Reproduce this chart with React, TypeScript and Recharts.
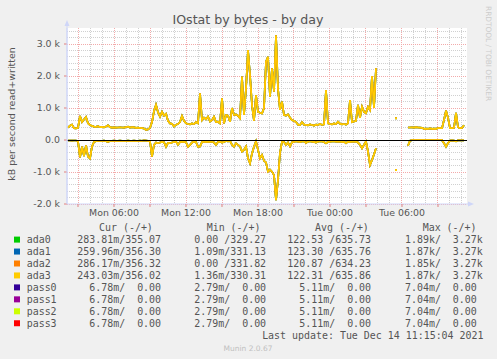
import { LineChart, Line, XAxis, YAxis, CartesianGrid, ReferenceLine } from 'recharts';

// 10 minute samples, hours counted from Mon 00:00
const START_HOUR = 2 + 1 / 6;
const STEP_HOURS = 1 / 6;
const X_MIN = 2.083;
const X_MAX = 35.417;

// kB/s written (drawn above zero)
const written = [
  390, 450, 480, 370, 365, 380, 750, 560, 640, 720,
  520, 470, 440, 420, 410, 430, 400, 410, 395, 420,
  460, 400, 390, 395, 385, 390, 395, 390, 385, 400,
  420, 390, 400, 395, 380, 385, 375, 370, 360, 320,
  330, 380, 560, 900, 1100, 870, 730, 880, 760, 820,
  600, 520, 510, 420, 480, 500, 560, 750, 600, 520,
  500, 490, 520, 500, 560, 520, 1460, 620, 700, 650,
  730, 580, 620, 730, 560, 570, 520, 1300, 520, 780,
  760, 570, 1000, 780, 800, 760, 680, 1980, 780, 1600,
  2810, 2030, 1090, 600, 1400, 880, 850, 830, 1000, 2450,
  2600, 1350, 2240, 1510, 3270, 1600, 940, 1200, 780, 760,
  800, 700, 620, 600, 560, 480, 470, 560, 480, 470,
  460, 490, 470, 450, 480, 470, 500, 470, 490, 1560,
  520, 500, 490, 520, 500, 570, 510, 490, 500, 480,
  520, 1250, 560, 580, 600, 1100, 690, 1040, 880, 840,
  1040, 940, 2000, 1000, 2240, null, null, null, null, null,
  null, null, null, null, 680, null, null, null, null, null,
  390, 390, 395, 390, 400, 390, 385, 380, 350, 355,
  350, 360, 350, 355, 350, 370, 375, 370, 625, 920,
  700, 370, 370, 380, 850, 400, 370, 380, 460,
];

// kB/s read (drawn below zero)
const read = [
  -15, -15, -20, -15, -15, -40, -540, -210, -500, -170,
  -520, -580, -200, -60, -40, -30, -25, -30, -20, -35,
  -60, -30, -25, -20, -25, -30, -20, -25, -30, -25,
  -20, -25, -30, -20, -25, -30, -20, -25, -15, -20,
  -25, -40, -520, -150, -80, -100, -80, -60, -70, -210,
  -90, -100, -80, -60, -50, -150, -60, -50, -60, -70,
  -210, -150, -80, -50, -60, -210, -200, -60, -50, -60,
  -50, -60, -50, -80, -150, -60, -50, -80, -60, -30,
  -40, -30, -150, -210, -100, -150, -200, -360, -310, -200,
  -570, -730, -420, -210, -40, -310, -570, -470, -650, -700,
  -990, -930, -990, -1100, -1880, -1250, -400, -50, -60, -150,
  -80, -200, -70, -60, -40, -50, -60, -45, -40, -90,
  -50, -40, -50, -60, -80, -50, -40, -45, -60, -100,
  -60, -50, -45, -40, -55, -50, -45, -60, -50, -100,
  -50, -60, -50, -45, -50, -80, -150, -260, -150, -50,
  -360, -780, -625, -450, -260, null, null, null, null, null,
  null, null, null, null, -940, null, null, null, null, null,
  -180, -20, -5, -5, -5, -5, -5, -5, -5, -5,
  -5, -5, -5, -5, -5, -5, -5, -5, -100, -210,
  -100, -20, -10, -20, -40, -10, -10, -10, -10,
];

const xTicks = [3, 6, 9, 12, 15, 18, 21, 24, 27, 30, 33];
const yTicks = [-2000, -1000, 0, 1000, 2000, 3000];

const names = ['ada0', 'ada1', 'ada2', 'ada3', 'pass0', 'pass1', 'pass2', 'pass3'];
const colors = ['#00CC00', '#0066B3', '#FF8000', '#FFCC00', '#330099', '#990099', '#CCFF00', '#FF0000'];
const curVals = ['283.81m/355.07', '259.96m/356.30', '286.17m/356.32', '243.03m/356.02', '  6.78m/  0.00', '  6.78m/  0.00', '  6.78m/  0.00', '  6.78m/  0.00'];
const minVals = ['0.00 /329.27', '1.09m/331.13', '0.00 /331.82', '1.36m/330.31', '2.79m/  0.00', '2.79m/  0.00', '2.79m/  0.00', '2.79m/  0.00'];
const avgVals = ['122.53 /635.73', '123.30 /635.76', '120.87 /634.23', '122.31 /635.86', '  5.11m/  0.00', '  5.11m/  0.00', '  5.11m/  0.00', '  5.11m/  0.00'];
const maxVals = ['1.89k/  3.27k', '1.87k/  3.27k', '1.85k/  3.27k', '1.87k/  3.27k', '7.04m/  0.00', '7.04m/  0.00', '7.04m/  0.00', '7.04m/  0.00'];

const FONT = "'DejaVu Sans', Verdana, sans-serif";
const MONO = "'DejaVu Sans Mono', monospace";
const TEXT = '#555555';
const AXIS = '#CFD6F8';

const range = (from: number, to: number, step: number) => {
  const out: number[] = [];
  for (let v = from; v <= to; v += step) out.push(v);
  return out;
};
const majorY = range(-2000, 3000, 1000).filter((v) => v !== 0);
const minorY = range(-2000, 3400, 200).filter((v) => v % 1000 !== 0);
const majorX = range(3, 33, 3);
const minorX = range(3, 35, 1).filter((v) => v % 3 !== 0);

const hourLabel = (h: number) =>
  h % 6 !== 0 ? '' : `${h < 24 ? 'Mon' : 'Tue'} ${String(h % 24).padStart(2, '0')}:00`;

const yLabel = (v: number) => (v === 0 ? '0.0' : `${(v / 1000).toFixed(1)} k`);

const data = written.map((w, i) => ({ t: START_HOUR + i * STEP_HOURS, w, r: read[i] }));

const isolated = (i: number) =>
  written[i] != null && written[i - 1] == null && written[i + 1] == null;

const makeDot = (color: string) => (props: any) => {
  const { cx, cy, index } = props;
  if (cy == null || !isolated(index)) return <g key={`d${index}`} />;
  return <line key={`d${index}`} x1={cx - 1} x2={cx + 1} y1={cy} y2={cy} stroke={color} strokeWidth={1.8} />;
};

const rowY = (k: number) => 239.6 + k * 11.95 + 3.6;

export default function App() {
  const lines = colors.slice(0, 4).flatMap((c, k) => [
    <Line key={`w${k}`} type="linear" dataKey="w" stroke={c} strokeWidth={1.7}
      dot={makeDot(c)} activeDot={false} isAnimationActive={false} connectNulls={false} />,
    <Line key={`r${k}`} type="linear" dataKey="r" stroke={c} strokeWidth={1.7}
      dot={makeDot(c)} activeDot={false} isAnimationActive={false} connectNulls={false} />,
  ]);

  return (
    <div style={{ position: 'absolute', left: 0, top: 0, width: 497, height: 359, background: '#F0F0F0' }}>
      <LineChart width={497} height={359} data={data} margin={{ top: 28, right: 30, bottom: 135, left: 0 }}>
        <CartesianGrid fill="#ffffff" stroke="#d0d0d0" strokeDasharray="1 1" shapeRendering="crispEdges"
          horizontalValues={minorY} verticalValues={minorX} />
        <CartesianGrid stroke="#f2aaaa" strokeDasharray="1 1" shapeRendering="crispEdges"
          horizontalValues={majorY} verticalValues={majorX} />
        <XAxis type="number" dataKey="t" domain={[X_MIN, X_MAX]} allowDataOverflow ticks={xTicks}
          interval={0} tickFormatter={hourLabel} height={20} tickSize={3} tickMargin={2}
          axisLine={{ stroke: AXIS }} tickLine={{ stroke: '#e08080' }}
          tick={{ fill: TEXT, fontSize: 9.4, fontFamily: FONT }} />
        <YAxis type="number" domain={[-2000, 3500]} allowDataOverflow ticks={yTicks} interval={0}
          tickFormatter={yLabel} width={67} tickSize={3} tickMargin={4}
          axisLine={{ stroke: AXIS }} tickLine={{ stroke: '#e08080' }}
          tick={{ fill: TEXT, fontSize: 9.4, fontFamily: FONT }} />
        {lines}
        <ReferenceLine y={0} stroke="#000000" strokeWidth={1} shapeRendering="crispEdges" />
      </LineChart>

      <svg width={497} height={359} style={{ position: 'absolute', left: 0, top: 0, pointerEvents: 'none' }}>
        <line x1={67} x2={67} y1={204} y2={25} stroke={AXIS} />
        <polygon points="64.5,26 69.5,26 67,20" fill={AXIS} />
        <line x1={467} x2={469} y1={204} y2={204} stroke={AXIS} />
        <polygon points="468,201.5 468,206.5 474,204" fill={AXIS} />

        <text x={248} y={24} textAnchor="middle" fontFamily={FONT} fontSize={12.6} fill={TEXT}>
          IOstat by bytes - by day
        </text>
        <text transform="translate(14.5,114) rotate(-90)" textAnchor="middle" fontFamily={FONT}
          fontSize={9.5} fill={TEXT}>
          kB per second read+written
        </text>
        <text transform="translate(485.5,6) rotate(90)" fontFamily={FONT} fontSize={7.4} fill="#cccccc">
          RRDTOOL / TOBI OETIKER
        </text>

        <g fontFamily={MONO} fontSize={9.95} fill={TEXT} style={{ whiteSpace: 'pre' }}>
          <text x={99} y={227.6 + 3.6}>Cur (-/+)</text>
          <text x={206.7} y={227.6 + 3.6}>Min (-/+)</text>
          <text x={315} y={227.6 + 3.6}>Avg (-/+)</text>
          <text x={422.7} y={227.6 + 3.6}>Max (-/+)</text>
          {names.map((n, k) => (
            <g key={n}>
              <rect x={14} y={rowY(k) - 6.6} width={6} height={6} fill={colors[k]} />
              <text x={26.7} y={rowY(k)}>{n}</text>
              <text x={77.3} y={rowY(k)} xmlSpace="preserve">{curVals[k]}</text>
              <text x={194.3} y={rowY(k)} xmlSpace="preserve">{minVals[k]}</text>
              <text x={287.3} y={rowY(k)} xmlSpace="preserve">{avgVals[k]}</text>
              <text x={405} y={rowY(k)} xmlSpace="preserve">{maxVals[k]}</text>
            </g>
          ))}
          <text x={483.5} y={335.6 + 3.6} textAnchor="end">Last update: Tue Dec 14 11:15:04 2021</text>
        </g>
        <text x={248} y={351} textAnchor="middle" fontFamily={FONT} fontSize={7.5} fill="#c0c0c0">
          Munin 2.0.67
        </text>
      </svg>
    </div>
  );
}
